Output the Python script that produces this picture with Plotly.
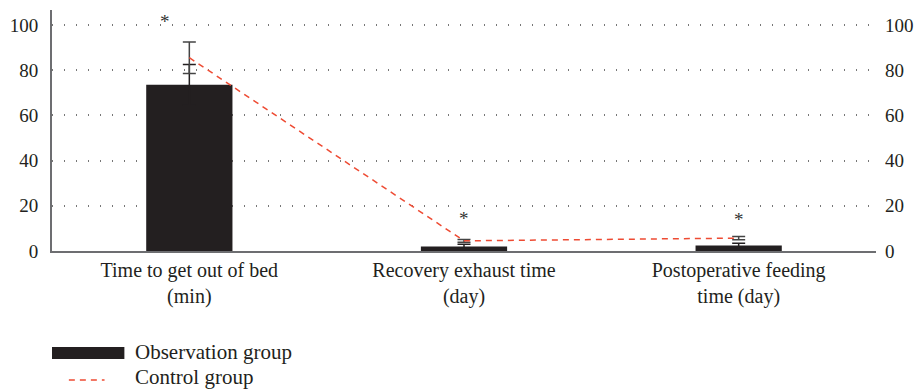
import plotly.graph_objects as go

# Category labels (two-line tick text)
categories = [
    "Time to get out of bed<br>(min)",
    "Recovery exhaust time<br>(day)",
    "Postoperative feeding<br>time (day)",
]

# Observation group (bars) with SD
observation_mean = [73.5, 2.0, 2.4]
observation_sd = [9.0, 1.0, 1.05]

# Control group (dashed line) with SD
control_mean = [85.5, 4.5, 5.7]
control_sd = [7.0, 0.6, 0.7]

# Significance markers
sig_text = ["*", "*", "*"]
sig_y = [101.5, 14.2, 13.8]
sig_dx = [-0.09, 0.0, 0.0]

y_ticks = [0, 20, 40, 60, 80, 100]
y_range = [0, 106.6]

FONT = "Liberation Serif"
TEXT_COLOR = "#231f20"
AXIS_COLOR = "#6d6e71"
BAR_COLOR = "#231f20"
LINE_COLOR = "#ee4b33"

fig = go.Figure()

fig.add_trace(go.Bar(
    x=categories,
    y=observation_mean,
    name="Observation group",
    marker=dict(color=BAR_COLOR, line=dict(width=0)),
    width=0.314,
    error_y=dict(type="data", array=observation_sd, symmetric=True,
                 color=BAR_COLOR, thickness=1.5, width=6.5),
    yaxis="y",
))

fig.add_trace(go.Scatter(
    x=categories,
    y=control_mean,
    name="Control group",
    mode="lines",
    line=dict(color=LINE_COLOR, width=1.5, dash="6px,5px"),
    error_y=dict(type="data", array=control_sd, symmetric=True,
                 color="#444444", thickness=1.5, width=6.5),
    yaxis="y2",
))

# Significance asterisks
for i, (t, yv, dx) in enumerate(zip(sig_text, sig_y, sig_dx)):
    fig.add_annotation(
        x=i + dx, y=yv, xref="x", yref="y", text=t, showarrow=False,
        font=dict(family=FONT, size=19, color="#333333"),
    )

# Legend drawn below the plot
fig.add_shape(type="rect", xref="paper", yref="paper",
              x0=(49 - 49) / 831, x1=(122 - 49) / 831,
              y0=(251 - 359) / 241, y1=(251 - 347) / 241,
              fillcolor=BAR_COLOR, line=dict(width=0))
fig.add_shape(type="line", xref="paper", yref="paper",
              x0=(66 - 49) / 831, x1=(102 - 49) / 831,
              y0=(251 - 380) / 241, y1=(251 - 380) / 241,
              line=dict(color=LINE_COLOR, width=1.5, dash="6px,5px"))
legend_font = dict(family=FONT, size=21, color=TEXT_COLOR)
fig.add_annotation(xref="paper", yref="paper",
                   x=(131 - 49) / 831, y=(251 - 352) / 241,
                   xanchor="left", yanchor="middle", showarrow=False,
                   text="Observation group", font=legend_font)
fig.add_annotation(xref="paper", yref="paper",
                   x=(131 - 49) / 831, y=(251 - 377) / 241,
                   xanchor="left", yanchor="middle", showarrow=False,
                   text="Control group", font=legend_font)

x_font = dict(family=FONT, size=20, color=TEXT_COLOR)
y_font = dict(family=FONT, size=19, color=TEXT_COLOR)

fig.update_layout(
    width=924, height=392,
    margin=dict(l=49, r=44, t=10, b=141),
    paper_bgcolor="white", plot_bgcolor="white",
    showlegend=False,
    font=x_font,
    xaxis=dict(
        type="category", range=[-0.5, 2.5],
        showline=True, linecolor=AXIS_COLOR, linewidth=2,
        showgrid=False, ticks="", tickfont=x_font,
    ),
    yaxis=dict(
        range=y_range, tickvals=y_ticks,
        showline=True, linecolor=AXIS_COLOR, linewidth=2,
        showgrid=True, gridcolor="#777777", gridwidth=1.5,
        griddash="1px,11px",
        zeroline=False, ticks="", ticklabelstandoff=8,
        tickfont=y_font,
    ),
    yaxis2=dict(
        range=y_range, tickvals=y_ticks, overlaying="y", side="right",
        showline=False, showgrid=False, zeroline=False, ticks="",
        ticklabelstandoff=8, tickfont=y_font,
    ),
)

fig.write_html("out.html")
